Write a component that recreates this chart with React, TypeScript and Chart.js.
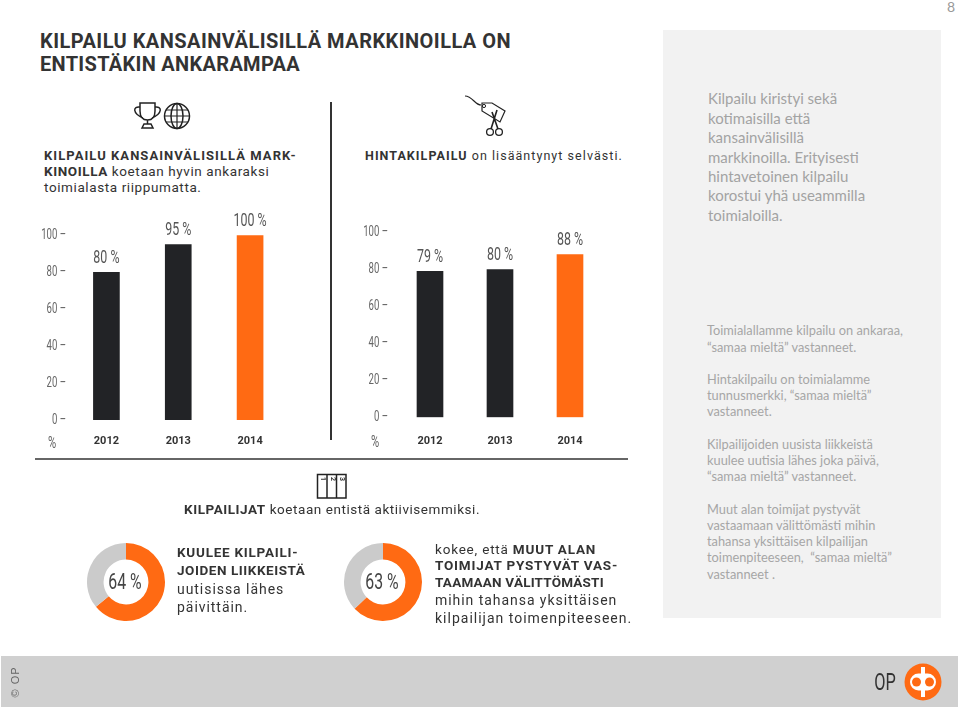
import React, { useEffect, useRef } from "react";
import { Chart, registerables } from "chart.js";

Chart.register(...registerables);

const years = ["2012", "2013", "2014"];
const marketValues = [80, 95, 100];
const priceValues = [79, 80, 88];
const barColors = ["#222326", "#222326", "#ff6a13"];
const newsShare = [64, 36];
const reactShare = [63, 37];
const ringColors = ["#ff6a13", "#cbcbcb"];

const DIN = 'Roboto, "Open Sans", sans-serif';
const BODY = 'Lato, "Open Sans", sans-serif';

type BarCfg = { values: number[]; yWidth: number; padTop: number; xHeight: number; tickPad: number; xPad: number };

function BarChart({ x, y, w, h, cfg }: { x: number; y: number; w: number; h: number; cfg: BarCfg }) {
  const ref = useRef<HTMLCanvasElement>(null);
  useEffect(() => {
    const narrowText = {
      id: "narrowText",
      afterDatasetsDraw(chart: any) {
        const ctx = chart.ctx;
        const meta = chart.getDatasetMeta(0);
        const scale = chart.scales.y;
        ctx.save();
        ctx.textBaseline = "middle";
        ctx.font = `18px ${DIN}`;
        ctx.fillStyle = "#555";
        ctx.textAlign = "center";
        meta.data.forEach((bar: any, i: number) => {
          ctx.save();
          ctx.translate(bar.x, bar.y - 14);
          ctx.scale(0.69, 1);
          ctx.fillText(`${cfg.values[i]} %`, 0, 0);
          ctx.restore();
        });
        ctx.font = `15px ${DIN}`;
        ctx.fillStyle = "#666";
        ctx.textAlign = "right";
        scale.ticks.forEach((t: any) => {
          ctx.save();
          ctx.translate(chart.chartArea.left - cfg.tickPad, scale.getPixelForValue(t.value));
          ctx.scale(0.64, 1);
          ctx.fillText(`${t.value} –`, 0, 0);
          ctx.restore();
        });
        ctx.restore();
      },
    };
    const chart = new Chart(ref.current!, {
      type: "bar",
      data: {
        labels: years,
        datasets: [{ data: cfg.values, backgroundColor: barColors, barThickness: 26, borderWidth: 0 }],
      },
      options: {
        responsive: false,
        animation: false,
        layout: { padding: { top: cfg.padTop, left: 0, right: 0, bottom: 0 } },
        plugins: { legend: { display: false }, tooltip: { enabled: false } },
        scales: {
          x: {
            grid: { display: false, drawTicks: false },
            border: { display: false },
            ticks: {
              padding: cfg.xPad,
              color: "#333",
              maxRotation: 0,
              font: { family: DIN, size: 11, weight: "bold" },
            },
            afterFit: (s: any) => { s.height = cfg.xHeight; },
          },
          y: {
            min: 0,
            max: 100,
            grid: { display: false, drawTicks: false },
            border: { display: false },
            ticks: { stepSize: 20, display: false },
            afterFit: (s: any) => { s.width = cfg.yWidth; },
          },
        },
      },
      plugins: [narrowText],
    } as any);
    return () => chart.destroy();
  }, []);
  return <canvas ref={ref} width={w} height={h} style={{ position: "absolute", left: x, top: y, width: w, height: h }} />;
}

function Ring({ x, y, values }: { x: number; y: number; values: number[] }) {
  const ref = useRef<HTMLCanvasElement>(null);
  useEffect(() => {
    const chart = new Chart(ref.current!, {
      type: "doughnut",
      data: { labels: ["Kyllä", "Muut"], datasets: [{ data: values, backgroundColor: ringColors, borderWidth: 0 }] },
      options: {
        responsive: false,
        animation: false,
        radius: 39,
        cutout: 23,
        plugins: { legend: { display: false }, tooltip: { enabled: false } },
      },
    } as any);
    return () => chart.destroy();
  }, []);
  return <canvas ref={ref} width={80} height={80} style={{ position: "absolute", left: x, top: y, width: 80, height: 80 }} />;
}

function T({ x, y, s, c = "#333", f = DIN, sp = 0, center = false, k = 1, children }: any) {
  return (
    <div
      style={{
        position: "absolute",
        left: x,
        top: y,
        transform: center ? `translate(-50%,-50%) scaleX(${k})` : "translateY(-50%)",
        fontFamily: f,
        fontSize: s,
        color: c,
        letterSpacing: sp,
        whiteSpace: "pre",
        lineHeight: 1,
      }}
    >
      {children}
    </div>
  );
}

const B = ({ children }: any) => <b style={{ fontWeight: 700 }}>{children}</b>;

const summaryLines = [
  "Kilpailu kiristyi sekä",
  "kotimaisilla että",
  "kansainvälisillä",
  "markkinoilla. Erityisesti",
  "hintavetoinen kilpailu",
  "korostui yhä useammilla",
  "toimialoilla.",
];
const summaryY = [98, 118, 137, 157, 176, 195, 215];
const noteLines: [string, number][] = [
  ["Toimialallamme kilpailu on ankaraa,", 330],
  ["“samaa mieltä” vastanneet.", 347],
  ["Hintakilpailu on toimialamme", 379],
  ["tunnusmerkki, “samaa mieltä”", 395],
  ["vastanneet.", 411],
  ["Kilpailijoiden uusista liikkeistä", 444],
  ["kuulee uutisia lähes joka päivä,", 460],
  ["“samaa mieltä” vastanneet.", 476],
  ["Muut alan toimijat pystyvät", 509],
  ["vastaamaan välittömästi mihin", 525],
  ["tahansa yksittäisen kilpailijan", 541],
  ["toimenpiteeseen,  “samaa mieltä”", 557],
  ["vastanneet .", 574],
];

export default function App() {
  useEffect(() => {
    document.body.style.margin = "0";
  }, []);
  return (
    <div style={{ position: "absolute", left: 0, top: 0, width: 960, height: 709, overflow: "hidden", background: "#fff" }}>
      <T x={947} y={7} s={14} c="#999" f={BODY}>8</T>

      <T x={40} y={41} s={20} sp={0.45} f={DIN}><B>KILPAILU KANSAINVÄLISILLÄ MARKKINOILLA ON</B></T>
      <T x={40} y={64} s={20} sp={0.3} f={DIN}><B>ENTISTÄKIN ANKARAMPAA</B></T>

      <div style={{ position: "absolute", left: 663, top: 30, width: 278, height: 588, background: "#f2f2f2" }} />
      {summaryLines.map((l, i) => (
        <T key={l} x={708} y={summaryY[i]} s={15} c="#a3a3a3" f={BODY}>{l}</T>
      ))}
      {noteLines.map(([l, yy], i) => (
        <T key={i} x={707} y={yy} s={12.8} c="#a6a6a6" f={BODY}>{l}</T>
      ))}

      <T x={44} y={155} s={13} sp={1.05}><B>KILPAILU KANSAINVÄLISILLÄ MARK-</B></T>
      <T x={44} y={172} s={13.5} sp={0.6}><B>KINOILLA</B> koetaan hyvin ankaraksi</T>
      <T x={44} y={188} s={13.5} sp={0.6}>toimialasta riippumatta.</T>
      <T x={365} y={156} s={12.5} sp={1.05}><B>HINTAKILPAILU</B> on lisääntynyt selvästi.</T>

      <div style={{ position: "absolute", left: 330, top: 102, width: 1.5, height: 338, background: "#333" }} />
      <div style={{ position: "absolute", left: 35, top: 458, width: 593, height: 2, background: "#666" }} />

      <BarChart x={20} y={200} w={266} h={260} cfg={{ values: marketValues, yWidth: 50.5, padTop: 35.3, xHeight: 40, tickPad: 4.5, xPad: 15 }} />
      <BarChart x={330} y={200} w={275} h={260} cfg={{ values: priceValues, yWidth: 65, padTop: 32.5, xHeight: 42.7, tickPad: 7, xPad: 17 }} />
      <T x={52} y={443} s={16} c="#666" k={0.7} center>%</T>
      <T x={375} y={442} s={16} c="#666" k={0.7} center>%</T>

      <svg width={960} height={709} style={{ position: "absolute", left: 0, top: 0, pointerEvents: "none" }} fill="none" stroke="#222" strokeWidth={1.5}>
        {/* trophy */}
        <path d="M140 103h15v8c0 6-3 9-7.500 9s-7.500-3-7.500-9zM140 107c-7-1-8 6 3 11M155 107c7-1 8 6-3 11M147.500 120v4M142 128l2-4h7l2 4z" />
        {/* globe */}
        <circle cx={177} cy={116} r={12.500} />
        <ellipse cx={177} cy={116} rx={6} ry={12.500} />
        <path d="M177 103.500v25M164.500 116h25M166 110h22M166 122h22" strokeWidth={1.2} />
        {/* price tag and scissors */}
        <path d="M465 96c4 0 7 3 9 5s4 4 7 4" strokeWidth={1.2} />
        <path d="M482 103h10l13 8-5 11-18-11z" strokeWidth={1.2} />
        <circle cx={484} cy={106} r={1.6} strokeWidth={1} />
        <path d="M497 110l-6 19M492 112l6 17" strokeWidth={1.6} />
        <circle cx={490} cy={132} r={3.4} strokeWidth={1.3} />
        <circle cx={499} cy={132} r={3.4} strokeWidth={1.3} />
        {/* podium */}
        <path d="M317.500 498v-23.500h28.500v23.500zM327 474.500v23.500M336.500 474.500v23.500" />
      </svg>
      <T x={322} y={479} s={7} center><div style={{ transform: "rotate(90deg)" }}><B>1</B></div></T>
      <T x={332} y={479} s={7} center><div style={{ transform: "rotate(90deg)" }}><B>2</B></div></T>
      <T x={341} y={479} s={7} center><div style={{ transform: "rotate(90deg)" }}><B>3</B></div></T>

      <T x={184} y={510} s={13.5} sp={0.55}><B>KILPAILIJAT</B> koetaan entistä aktiivisemmiksi.</T>

      <Ring x={86} y={542} values={newsShare} />
      <Ring x={343} y={542} values={reactShare} />
      <T x={124.500} y={582} s={22} c="#444" k={0.72} center>64 %</T>
      <T x={381.500} y={582} s={22} c="#444" k={0.72} center>63 %</T>

      <T x={177} y={553} s={13.5} sp={0.75}><B>KUULEE KILPAILI-</B></T>
      <T x={177} y={571} s={13.5} sp={0.55}><B>JOIDEN LIIKKEISTÄ</B></T>
      <T x={177} y={589} s={14} sp={0.95}>uutisissa lähes</T>
      <T x={177} y={607} s={14} sp={0.95}>päivittäin.</T>

      <T x={435} y={550} s={13.5} sp={0.8}>kokee, että <B>MUUT ALAN</B></T>
      <T x={435} y={566} s={13.5} sp={0.8}><B>TOIMIJAT PYSTYVÄT VAS-</B></T>
      <T x={435} y={583} s={13.5} sp={0.2}><B>TAAMAAN VÄLITTÖMÄSTI</B></T>
      <T x={435} y={600} s={14} sp={0.95}>mihin tahansa yksittäisen</T>
      <T x={435} y={618} s={14} sp={1}>kilpailijan toimenpiteeseen.</T>

      <div style={{ position: "absolute", left: 1, top: 656, width: 957, height: 51, background: "#d0d0d0" }} />
      <T x={15} y={682} s={11} c="#666" sp={1} f='"Liberation Sans", sans-serif' center>
        <div style={{ transform: "rotate(-90deg)", whiteSpace: "pre" }}>© OP</div>
      </T>
      <T x={884.500} y={682} s={24} c="#333" k={0.68} center>OP</T>
      <svg width={40} height={40} style={{ position: "absolute", left: 903, top: 662 }}>
        <circle cx={20} cy={20} r={18.500} fill="#ff6a13" />
        <rect x={7} y={11.500} width={26} height={17} rx={8.500} fill="#fff" />
        <circle cx={13.500} cy={20} r={4.500} fill="#ff6a13" />
        <circle cx={26.500} cy={20} r={4.500} fill="#ff6a13" />
        <rect x={18} y={5} width={4} height={30} fill="#fff" />
      </svg>
    </div>
  );
}
